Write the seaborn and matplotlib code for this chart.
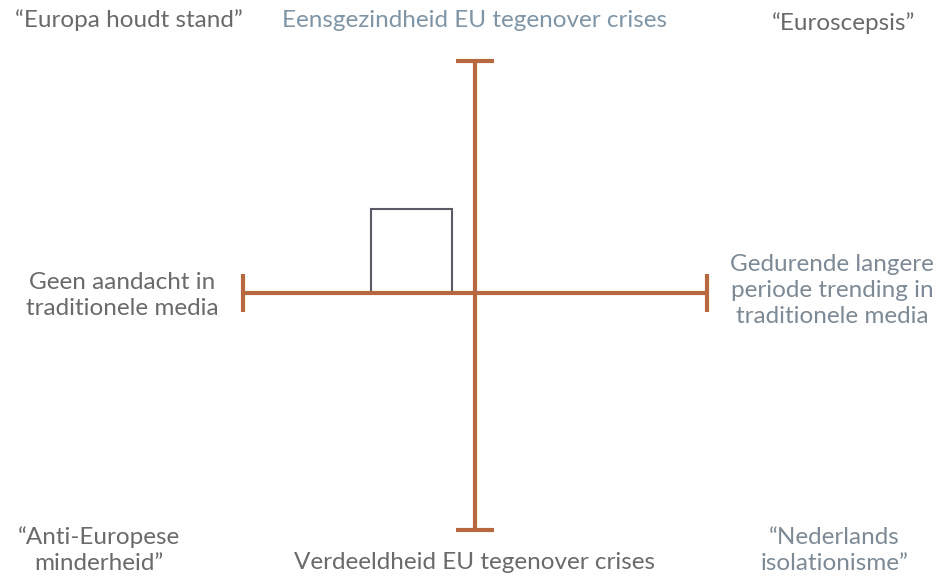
import numpy as np
import pandas as pd
import seaborn as sns
import matplotlib.pyplot as plt
from matplotlib.patches import Rectangle

# axis arms of the quadrant (data units, centre at 0,0)
arm_x = [-1.0, 1.0]
arm_y = [-1.02, 1.0]

# the small box in the upper-left quadrant: x0, x1, y0, y1
box_x = [-0.45, -0.10]
box_y = [0.0, 0.36]

# labels: text, x, y, colour
corner_labels = [
    ("\u201cEuropa houdt stand\u201d", -1.49, 1.175, "#6a6a6a"),
    ("Eensgezindheid EU tegenover crises", 0.0, 1.175, "#7f95a6"),
    ("\u201cEuroscepsis\u201d", 1.59, 1.165, "#6a6a6a"),
    ("Geen aandacht in\ntraditionele media", -1.52, -0.01, "#6a6a6a"),
    ("Gedurende langere\nperiode trending in\ntraditionele media", 1.54, 0.01, "#7d8a96"),
    ("\u201cAnti-Europese\nminderheid\u201d", -1.62, -1.11, "#6a6a6a"),
    ("Verdeeldheid EU tegenover crises", 0.0, -1.16, "#6a6a6a"),
    ("\u201cNederlands\nisolationisme\u201d", 1.55, -1.11, "#7d8a96"),
]

line_col = "#b8683f"

sns.set_theme(style="white")
plt.rcParams['font.family'] = ['Lato', 'DejaVu Sans']

fig = plt.figure(figsize=(9.39, 5.76), dpi=100)
ax = fig.add_axes([0, 0, 1, 1])

hline = pd.DataFrame({"x": arm_x, "y": [0, 0]})
vline = pd.DataFrame({"x": [0, 0], "y": arm_y})
sns.lineplot(data=hline, x="x", y="y", color=line_col, lw=3, ax=ax, sort=False)
sns.lineplot(data=vline, x="x", y="y", color=line_col, lw=3, ax=ax, sort=False,
             orient="y")

# end caps
ax.plot(arm_x, [0, 0], ls="none", marker="|", ms=27, mew=3, color=line_col)
ax.plot([0, 0], arm_y, ls="none", marker="_", ms=27, mew=3, color=line_col)

ax.add_patch(Rectangle((box_x[0], box_y[0]), box_x[1] - box_x[0], box_y[1] - box_y[0],
                       fill=False, ec="#5a5a66", lw=1.5, zorder=1))

for txt, x, y, c in corner_labels:
    ax.text(x, y, txt, ha="center", va="center", fontsize=17.5, color=c,
            linespacing=1.3)

ax.set_xlim(-2.047, 2.0)
ax.set_ylim(-1.22, 1.263)
ax.set_axis_off()

fig.savefig("out.png", dpi=100)
